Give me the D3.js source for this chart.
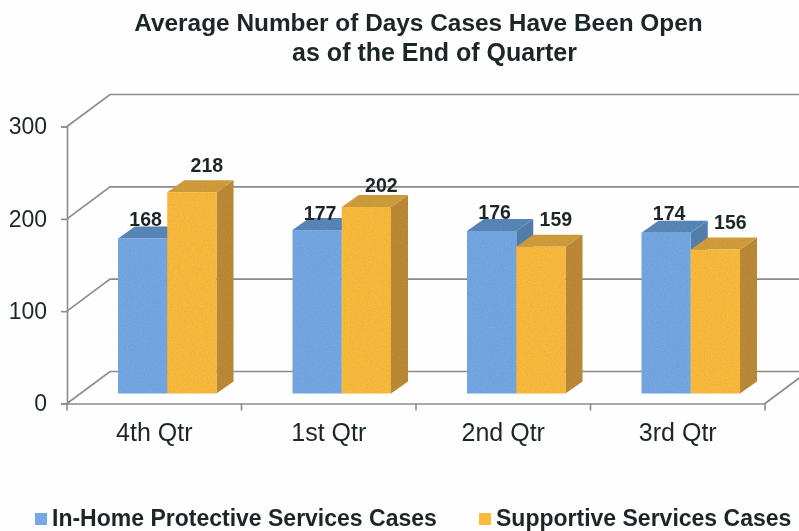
<!DOCTYPE html>
<html>
<head>
<meta charset="utf-8">
<script src="https://cdn.jsdelivr.net/npm/d3@7"></script>
<style>
  html, body { margin: 0; padding: 0; background: #fefefe; }
  svg { display: block; }
  text { font-family: "Liberation Sans", Arial, sans-serif; fill: #1c2628; }
</style>
</head>
<body>
<div id="chart"></div>
<script>
const quarters = ["4th Qtr", "1st Qtr", "2nd Qtr", "3rd Qtr"];
const inHome = [168, 177, 176, 174];
const supportive = [218, 202, 159, 156];
const yTicks = [0, 100, 200, 300];

const width = 799, height = 531;
const lineColor = "#8b8b8b";

// 3d offsets: wall depth and bar depth
const wallDx = 43, wallDy = -32;
const barDx = 17, barDy = -12;
const floorDy = -10; // bars sit a bit behind the front edge of the floor

const svg = d3.select("#chart").append("svg")
  .attr("width", width)
  .attr("height", height);

const defs = svg.append("defs");
const grain = defs.append("filter").attr("id", "grain")
  .attr("x", 0).attr("y", 0).attr("width", "100%").attr("height", "100%");
grain.append("feTurbulence").attr("type", "fractalNoise")
  .attr("baseFrequency", 0.7).attr("numOctaves", 2).attr("seed", 4).attr("result", "n");
grain.append("feColorMatrix").attr("in", "n").attr("type", "matrix")
  .attr("values", "0 0 0 0 0  0 0 0 0 0  0 0 0 0 0  0.25 0 0 0 -0.08").attr("result", "a");
grain.append("feComposite").attr("in", "a").attr("in2", "SourceGraphic").attr("operator", "in").attr("result", "b");
grain.append("feMerge").selectAll("feMergeNode")
  .data(["SourceGraphic", "b"]).enter().append("feMergeNode").attr("in", d => d);

const soft = defs.append("filter").attr("id", "soft");
soft.append("feGaussianBlur").attr("stdDeviation", 0.45);

const root = svg.append("g").attr("filter", "url(#soft)");

const x = d3.scaleBand().domain(quarters).range([67, 765]);
const y = d3.scaleLinear().domain([0, 300]).range([403.5, 126.5]);
const barX = d3.scaleBand().domain(["inHome", "supportive"])
  .range([51, x.bandwidth() - 25]);

// title
root.append("text").attr("x", 418.5).attr("y", 31).attr("text-anchor", "middle")
  .attr("font-size", 24.4).attr("font-weight", "bold").text("Average Number of Days Cases Have Been Open");
root.append("text").attr("x", 434.5).attr("y", 61).attr("text-anchor", "middle")
  .attr("font-size", 25).attr("font-weight", "bold").text("as of the End of Quarter");

// walls
const grid = root.append("g").attr("fill", "none").attr("stroke", lineColor).attr("stroke-width", 1.6);
grid.selectAll("path.wall")
  .data(yTicks)
  .enter().append("path")
  .attr("class", "wall")
  .attr("d", d => `M${x.range()[0]},${y(d)}l${wallDx},${wallDy}H${width}`);
// right side of floor
grid.append("line")
  .attr("x1", x.range()[1]).attr("y1", y(0))
  .attr("x2", x.range()[1] + wallDx).attr("y2", y(0) + wallDy);

// axes
const yAxis = root.append("g")
  .attr("transform", `translate(${x.range()[0]},0)`)
  .call(d3.axisLeft(y).tickValues(yTicks).tickSize(6).tickPadding(14));
const xAxis = root.append("g")
  .attr("transform", `translate(0,${y(0)})`)
  .call(d3.axisBottom(x).tickSize(0).tickPadding(20));
[yAxis, xAxis].forEach(a => {
  a.selectAll(".domain").attr("stroke", lineColor).attr("stroke-width", 1.6);
  a.selectAll(".tick line").attr("stroke", lineColor).attr("stroke-width", 1.6);
  a.selectAll("text").attr("font-family", '"Liberation Sans", Arial, sans-serif').attr("fill", "#1c2628");
});
yAxis.selectAll("text").attr("font-size", 23);
xAxis.selectAll("text").attr("font-size", 25);
// category ticks sit on the band edges
xAxis.selectAll("line.edge")
  .data(quarters.map(q => x(q)).concat(x.range()[1]))
  .enter().append("line")
  .attr("class", "edge")
  .attr("x1", d => d).attr("x2", d => d)
  .attr("y1", 0).attr("y2", 7)
  .attr("stroke", lineColor).attr("stroke-width", 1.6);

// bars
const seriesList = [
  { key: "inHome", values: inHome, front: "#74a8e4", top: "#5a87b9", side: "#5480ae", labelDx: 3, labelDy: [12, 10, 12, 13] },
  { key: "supportive", values: supportive, front: "#fabb3d", top: "#d29e3e", side: "#bd8a38", labelDx: 15, labelDy: [20, 15, 21, 20] }
];
const barY = v => y(v) + floorDy;

const bars = root.append("g").attr("filter", "url(#grain)");
quarters.forEach((q, i) => {
  const g = bars.append("g").attr("transform", `translate(${x(q)},0)`);
  seriesList.forEach(s => {
    const v = s.values[i];
    const x0 = barX(s.key), w = barX.bandwidth(), t = barY(v), b = barY(0);
    g.append("path").attr("fill", s.side)
      .attr("d", `M${x0 + w},${t}l${barDx},${barDy}V${b + barDy}l${-barDx},${-barDy}Z`);
    g.append("path").attr("fill", s.top)
      .attr("d", `M${x0},${t}l${barDx},${barDy}h${w}l${-barDx},${-barDy}Z`);
    g.append("rect").attr("fill", s.front)
      .attr("x", x0).attr("y", t).attr("width", w).attr("height", b - t);
  });
});

// value labels
const labels = root.append("g").attr("text-anchor", "middle")
  .attr("font-size", 19.5).attr("font-weight", "bold");
quarters.forEach((q, i) => {
  seriesList.forEach(s => {
    labels.append("text")
      .attr("x", x(q) + barX(s.key) + barX.bandwidth() / 2 + s.labelDx)
      .attr("y", barY(s.values[i]) - s.labelDy[i])
      .text(s.values[i]);
  });
});

// legend
const legend = root.append("g").attr("font-size", 23).attr("font-weight", "bold");
[["In-Home Protective Services Cases", 35, "#74a8e4"], ["Supportive Services Cases", 479, "#fabb3d"]]
  .forEach(([name, lx, color]) => {
    legend.append("rect").attr("x", lx).attr("y", 513).attr("width", 12).attr("height", 12).attr("fill", color);
    legend.append("text").attr("x", lx + 17).attr("y", 526).text(name);
  });
</script>
</body>
</html>
